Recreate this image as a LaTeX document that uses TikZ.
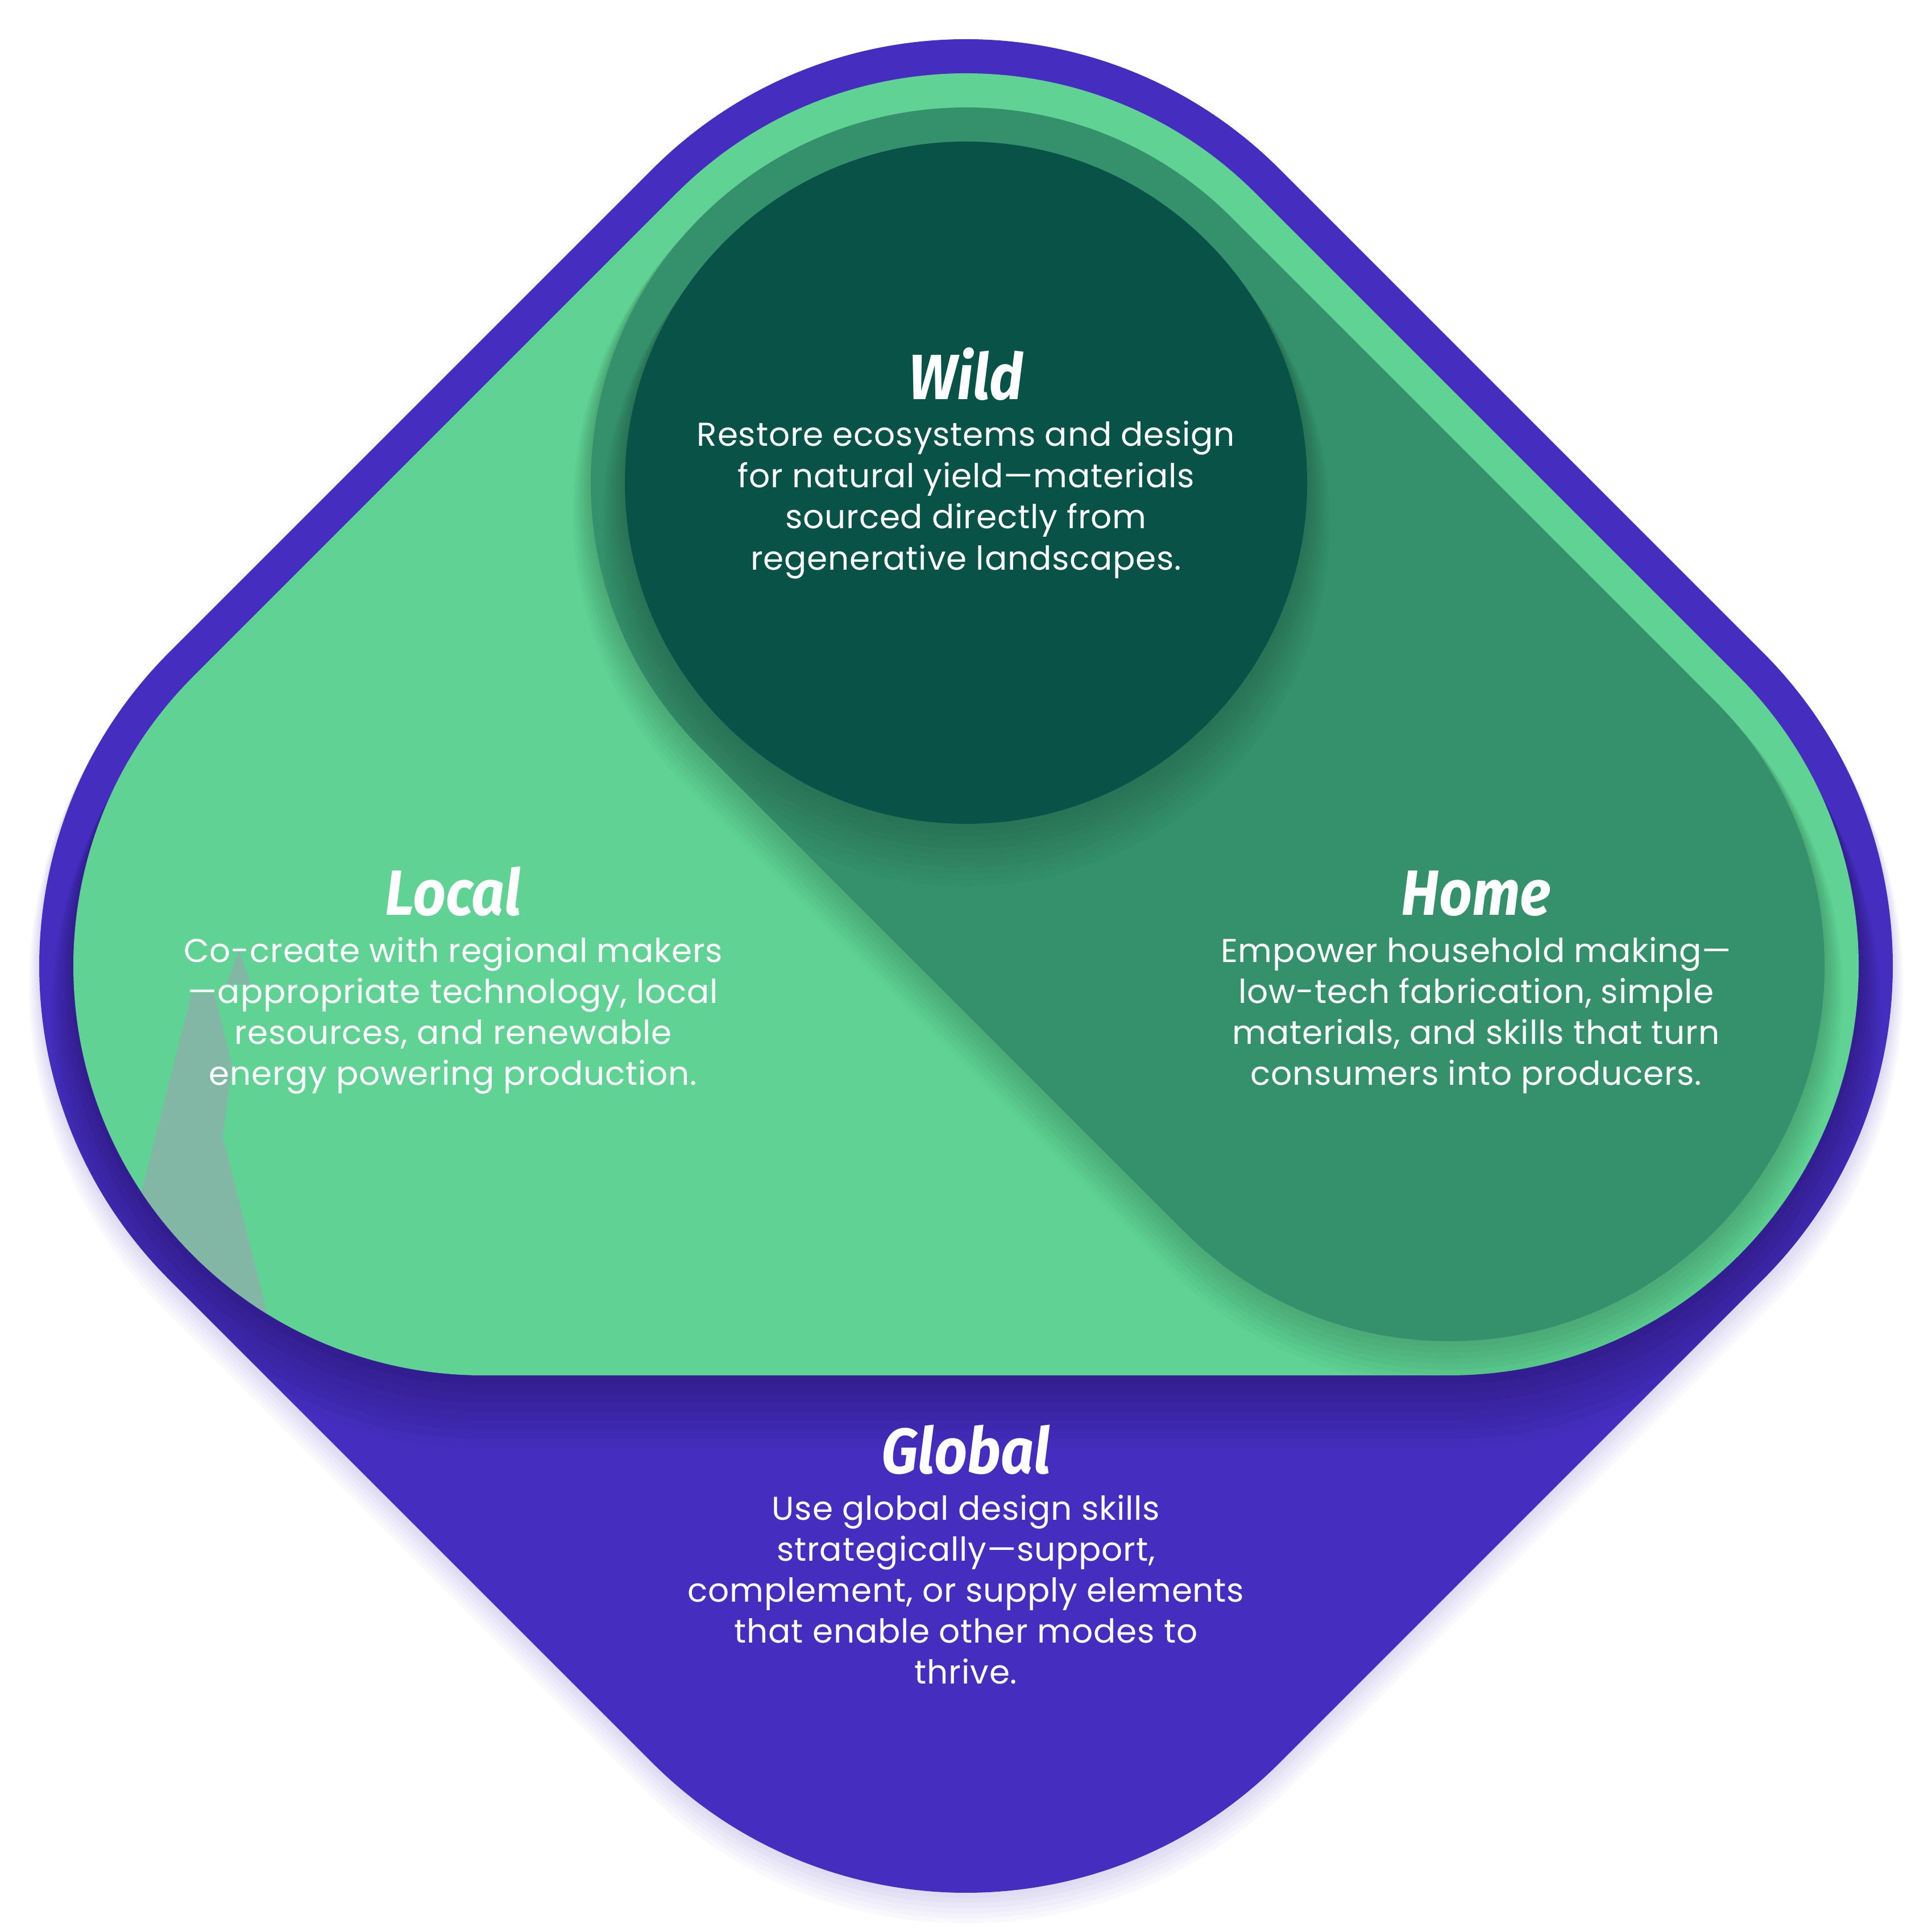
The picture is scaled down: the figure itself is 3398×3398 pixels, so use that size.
\documentclass[tikz,border=0pt]{standalone}
\usepackage{fontspec}
\setmainfont{Poppins}[LetterSpace=1.5]
\newfontfamily\titlefamily[FakeStretch=0.9]{Fira Sans}
\definecolor{vpurple}{RGB}{69,46,191}
\definecolor{lgreen}{RGB}{96,211,148}
\definecolor{mgreen}{RGB}{52,145,108}
\definecolor{dgreen}{RGB}{8,82,72}
\definecolor{mist}{RGB}{130,183,165}
% rounded diamond: hull of four circles
\newcommand\hullFour[1]{({1699+0.70711*(#1)},{2549+0.70711*(#1)}) arc[start angle=45,end angle=135,radius={#1}] -- ++(-850,-850) arc[start angle=135,end angle=225,radius={#1}] -- ++(850,-850) arc[start angle=225,end angle=315,radius={#1}] -- ++(850,850) arc[start angle=315,end angle=405,radius={#1}] -- cycle}
% hull of top, left and right circles
\newcommand\hullThree[1]{({1699+0.70711*(#1)},{2549+0.70711*(#1)}) arc[start angle=45,end angle=135,radius={#1}] -- ++(-850,-850) arc[start angle=135,end angle=270,radius={#1}] -- ++(1700,0) arc[start angle=270,end angle=405,radius={#1}] -- cycle}
% capsule from top circle to right circle
\newcommand\capsuleAB[1]{({1699+0.70711*(#1)},{2549+0.70711*(#1)}) arc[start angle=45,end angle=225,radius={#1}] -- ++(850,-850) arc[start angle=225,end angle=405,radius={#1}] -- cycle}
\tikzset{
  modetitle/.style={text=white,inner sep=0pt,anchor=base,font=\titlefamily\bfseries\itshape\fontsize{32pt}{36pt}\selectfont},
  modebody/.style={text=white,inner sep=0pt,anchor=base,font=\fontsize{16.5pt}{20.6pt}\selectfont}
}
\begin{document}
\begin{tikzpicture}[x=0.01cm,y=0.01cm]
\useasboundingbox (0,0) rectangle (3398,3398);
\fill[white] (0,0) rectangle (3398,3398);
% outer soft shadow
\foreach \k in {1,...,6}{\fill[vpurple,opacity=0.028,shift={(0,-6*\k)}] \hullFour{780+3*\k};}
% purple global shape
\fill[vpurple] \hullFour{780};
% shadow of green area on purple
\begin{scope}
\clip \hullFour{780};
\foreach \k in {1,...,8}{\fill[black,opacity=0.03,shift={(0,-11*\k)}] \hullThree{720+5*\k};}
\end{scope}
% light green local area
\fill[lgreen] \hullThree{720};
\begin{scope}
\clip \hullThree{720};
\fill[mist] (420,1728) -- (441,1667) -- (399,1667) -- cycle;
\fill[mist] (337,1651) -- (377,1651) -- (408,1525) -- (392,1398) -- (475,1068) -- (190,1068) -- (273,1398) -- cycle;
\foreach \k in {1,...,8}{\fill[black,opacity=0.024,shift={(0,-6*\k)}] \capsuleAB{660+4*\k};}
\end{scope}
% mid green home capsule
\fill[mgreen] \capsuleAB{660};
\begin{scope}
\clip \capsuleAB{660};
\foreach \k in {1,...,10}{\fill[black,opacity=0.02,shift={(0,-7*\k)}] (1699,2549) circle[radius={600+4*\k}];}
\end{scope}
% dark wild circle
\fill[dgreen] (1699,2549) circle[radius=600];
% texts
\node[modetitle] (wildT) at (1699,2695) {Wild};
\foreach \t [count=\i] in {{Restore ecosystems and design},{for natural yield—materials},{sourced directly from},{regenerative landscapes.}}
  {\node[modebody] (wild\i) at (1699,{2613-72.5*(\i-1)}) {\t};}
\node[modetitle] (localT) at (797,1788) {Local};
\foreach \t [count=\i] in {{Co-create with regional makers},{—appropriate technology, local},{resources, and renewable},{energy powering production.}}
  {\node[modebody] (local\i) at (797,{1705-72*(\i-1)}) {\t};}
\node[modetitle] (homeT) at (2596,1788) {Home};
\foreach \t [count=\i] in {{Empower household making—},{low-tech fabrication, simple},{materials, and skills that turn},{consumers into producers.}}
  {\node[modebody] (home\i) at (2596,{1705-72*(\i-1)}) {\t};}
\node[modetitle] (globalT) at (1699,806) {Global};
\foreach \t [count=\i] in {{Use global design skills},{strategically—support,},{complement, or supply elements},{that enable other modes to},{thrive.}}
  {\node[modebody] (global\i) at (1699,{724-72*(\i-1)}) {\t};}
\end{tikzpicture}
\end{document}
